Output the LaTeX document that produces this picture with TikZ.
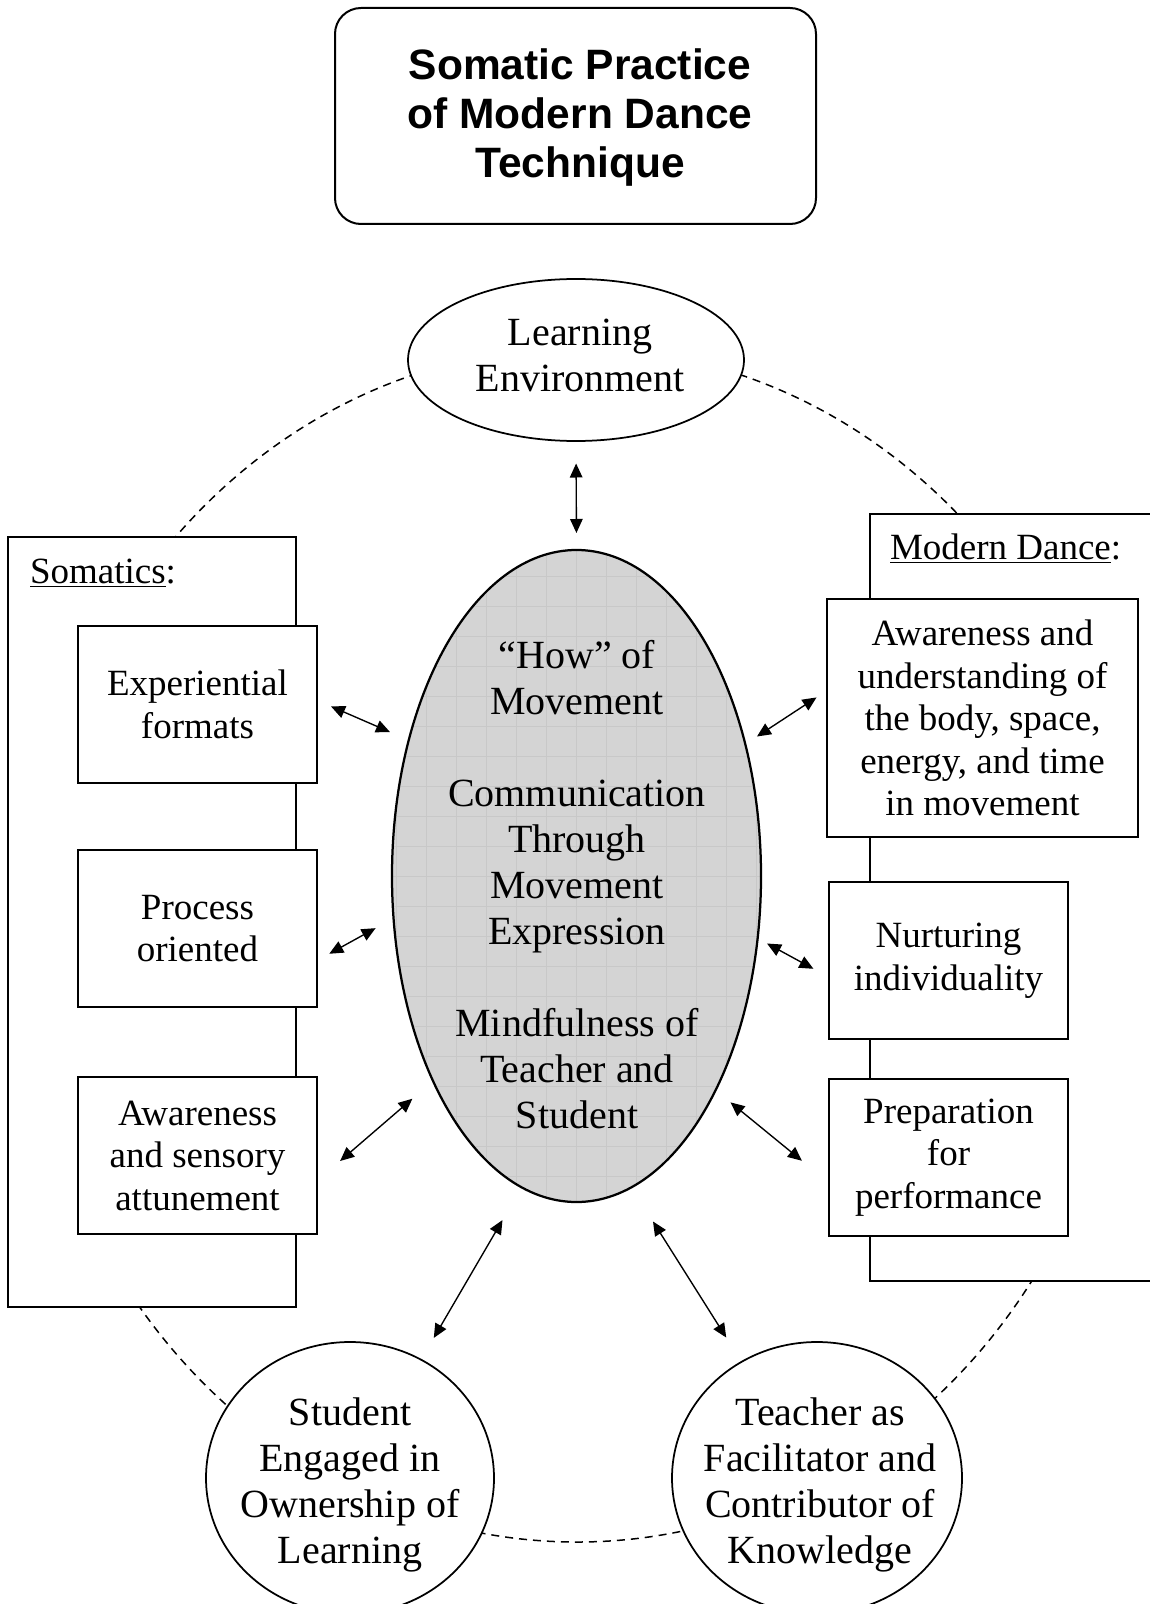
\documentclass[tikz,border=0pt]{standalone}
\usepackage{fontspec}
\setmainfont{Liberation Serif}
\newfontfamily\headfont{Liberation Sans}
\usetikzlibrary{shapes.geometric,arrows.meta}

\definecolor{coregray}{RGB}{212,212,212}
\definecolor{coregrid}{RGB}{200,200,200}

\begin{document}
\begin{tikzpicture}[x=0.4pt,y=-0.4pt,
  every node/.style={outer sep=0pt, inner sep=0pt},
  boxtext/.style={font=\fontsize{14.8}{17}\selectfont, align=center},
  labeltext/.style={font=\fontsize{14.8}{17}\selectfont},
  ovaltext/.style={font=\fontsize{16}{18.4}\selectfont, align=center},
  itembox/.style={draw, line width=0.8pt, fill=white, rectangle,
    minimum width=95.6pt, minimum height=62.8pt, boxtext},
  oval/.style={draw, line width=0.7pt, fill=white, ellipse},
  link/.style={{Triangle[length=5.6pt,width=5pt]}-{Triangle[length=5.6pt,width=5pt]},
    line width=0.55pt},
  orbit/.style={dash pattern=on 3.2pt off 2.4pt, line width=0.6pt}
]
% page
\fill[white] (0,0) rectangle (1149,1604);
\useasboundingbox (0,0) rectangle (1149,1604);

% dashed orbit linking the outer elements
\draw[orbit] (577,945) ellipse [x radius=220pt, y radius=238.8pt];

% title
\node[draw, line width=0.8pt, rounded corners=10.4pt, fill=white,
  minimum width=192.4pt, minimum height=86.4pt] (title) at (575.5,116) {};
\node[align=center, font=\headfont\bfseries\fontsize{17}{19.6}\selectfont]
  (titletext) at (580,118) {Somatic Practice\\of Modern Dance\\Technique};

% container frames
\node[draw, line width=0.8pt, fill=white, rectangle,
  minimum width=115.2pt, minimum height=308pt] (somatics) at (152,922) {};
\node[labeltext, anchor=base west] (somlabel) at (30,583) {\underline{Somatics}:};

\fill[white] (870,514) rectangle (1160,1281);
\draw[line width=0.8pt] (1160,514) -- (870,514) -- (870,1281) -- (1160,1281);
\node[labeltext, anchor=base west] (mdlabel) at (890,559) {\underline{Modern Dance}:};

% ellipses
\node[oval, minimum width=134.4pt, minimum height=64.8pt] (le) at (576,360) {};
\node[ovaltext] (letext) at (580,355) {Learning\\Environment};
\node[oval, minimum width=115.2pt, minimum height=108.8pt] (stu) at (350,1478) {};
\node[ovaltext] (stutext) at (350,1485) {Student\\Engaged in\\Ownership of\\Learning};
\node[oval, minimum width=116pt, minimum height=108.8pt] (tea) at (817,1478) {};
\node[ovaltext] (teatext) at (820,1485) {Teacher as\\Facilitator and\\Contributor of\\Knowledge};

% central ellipse
\node[draw, line width=0.9pt, fill=coregray, ellipse,
  minimum width=147.6pt, minimum height=260.8pt,
  path picture={\draw[coregrid, line width=0.3pt]
    (path picture bounding box.south west) grid[step=12pt]
    (path picture bounding box.north east);}]
  (core) at (576.5,876) {};
\node[ovaltext] (coretext) at (577,885)
  {“How” of\\Movement\\[18.4pt]Communication\\Through\\Movement\\Expression\\[18.4pt]Mindfulness of\\Teacher and\\Student};

% somatics items
\node[itembox] (exp) at (197.5,704.5) {Experiential\\formats};
\node[itembox] (proc) at (197.5,928.5) {Process\\oriented};
\node[itembox] (sens) at (197.5,1155.5) {Awareness\\and sensory\\attunement};

% modern dance items
\node[itembox, minimum width=124.4pt, minimum height=95.2pt] (mdaware) at (982.5,718)
  {Awareness and\\understanding of\\the body, space,\\energy, and time\\in movement};
\node[itembox] (nurt) at (948.5,960.5) {Nurturing\\individuality};
\node[itembox] (prep) at (948.5,1157.5) {Preparation\\for\\performance};

% two-way links to the centre
\draw[link, shorten <=9pt, shorten >=6.8pt] (le.south) -- (core.north);
\draw[link, shorten <=6.1pt, shorten >=8.2pt] (exp.2.25) -- (core.141);
\draw[link, shorten <=5.6pt, shorten >=8.2pt] (proc.345.2) -- (core.193.7);
\draw[link, shorten <=12.2pt, shorten >=10.9pt] (sens.348.3) -- (core.235.8);
\draw[link, shorten <=5pt, shorten >=5.6pt] (mdaware.170.65) -- (core.38);
\draw[link, shorten <=7.1pt, shorten >=4.3pt] (nurt.188.1) -- (core.341.05);
\draw[link, shorten <=14pt, shorten >=7.7pt] (prep.192.2) -- (core.303.1);
\draw[link, shorten <=10.1pt, shorten >=15.2pt] (stu.59.66) -- (core.260.3);
\draw[link, shorten <=11.5pt, shorten >=16.2pt] (tea.123) -- (core.280.4);
\end{tikzpicture}
\end{document}
